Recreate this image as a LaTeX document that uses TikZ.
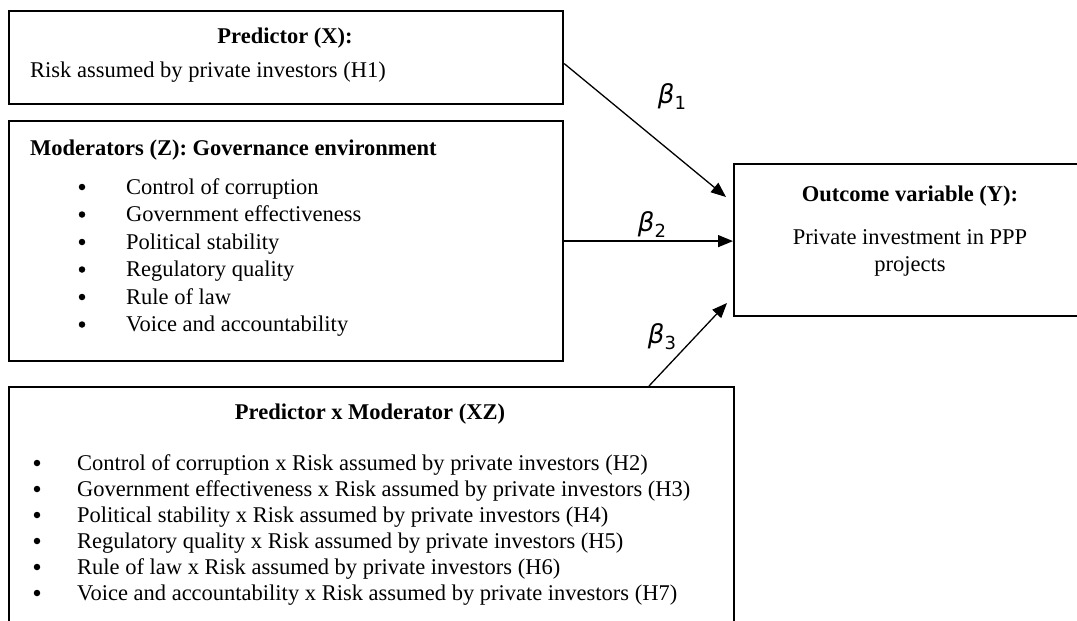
\documentclass[tikz,border=0pt]{standalone}
\usepackage{fontspec}
\setmainfont{Liberation Serif}
\newfontfamily\betafont{DejaVu Sans}
\usetikzlibrary{arrows.meta}
\newcommand{\betalab}[1]{{\betafont\itshape β}\raisebox{-6pt}{\betafont\fontsize{18}{18}\selectfont #1}}
\begin{document}
\begin{tikzpicture}[x=1pt,y=-1pt,
  box/.style={draw, line width=2.2pt, inner sep=0pt, anchor=north west},
  txt/.style={inner sep=0pt, anchor=base west, font=\fontsize{22.5}{25}\selectfont},
  ttl/.style={inner sep=0pt, anchor=base, font=\fontsize{22.5}{25}\selectfont\bfseries},
  ttlw/.style={inner sep=0pt, anchor=base west, font=\fontsize{22.5}{25}\selectfont\bfseries},
  ctr/.style={inner sep=0pt, anchor=base, font=\fontsize{22.5}{25}\selectfont},
  bul/.style={circle, fill, inner sep=0pt, minimum size=6.5pt},
  conn/.style={line width=1.3pt, -{Triangle[length=15pt,width=12pt]}},
  betal/.style={inner sep=0pt, font=\fontsize{26}{28}\selectfont}]
\useasboundingbox (0,0) rectangle (1077,621);
% boxes
\node[box, minimum width=554pt, minimum height=93pt] (X) at (8,10) {};
\node[box, minimum width=554pt, minimum height=240pt] (Z) at (8,120) {};
\node[box, minimum width=725pt, minimum height=260pt] (XZ) at (8,386) {};
\node[box, minimum width=370pt, minimum height=152pt] (Y) at (733,163) {};
% X text
\node[ttl] (xt) at (285,43) {Predictor (X):};
\node[txt] (x1) at (30,77) {Risk assumed by private investors (H1)};
% Z text
\node[ttlw] (zt) at (30,155) {Moderators (Z): Governance environment};
\foreach \t [count=\i] in {Control of corruption, Government effectiveness, Political stability, Regulatory quality, Rule of law, Voice and accountability}{
  \node[bul] (zb\i) at (82,{187+27.5*(\i-1)}) {};
  \node[txt] (z\i) at (126,{194+27.5*(\i-1)}) {\t};
}
% XZ text
\node[ttl] (xzt) at (370,419) {Predictor x Moderator (XZ)};
\foreach \t [count=\i] in {Control of corruption x Risk assumed by private investors (H2),
  Government effectiveness x Risk assumed by private investors (H3),
  Political stability x Risk assumed by private investors (H4),
  Regulatory quality x Risk assumed by private investors (H5),
  Rule of law x Risk assumed by private investors (H6),
  Voice and accountability x Risk assumed by private investors (H7)}{
  \node[bul] (xzb\i) at (37,{463+26*(\i-1)}) {};
  \node[txt] (xz\i) at (77,{470+26*(\i-1)}) {\t};
}
% Y text
\node[ttl] (yt) at (910,201) {Outcome variable (Y):};
\node[ctr] (y1) at (910,244) {Private investment in PPP};
\node[ctr] (y2) at (910,271) {projects};
% connectors
\coordinate (t1) at (726,197);
\coordinate (s3) at (649,386);
\coordinate (t3) at (727,303);
\draw[conn] ([yshift=-6pt]X.east) -- (t1);
\draw[conn] (Z.east) -- (Z.east -| Y.west);
\draw[conn] (s3) -- (t3);
% labels
\node[betal] (b1) at (672,97) {\betalab{1}};
\node[betal] (b2) at (652,225) {\betalab{2}};
\node[betal] (b3) at (662,337) {\betalab{3}};
\end{tikzpicture}
\end{document}
